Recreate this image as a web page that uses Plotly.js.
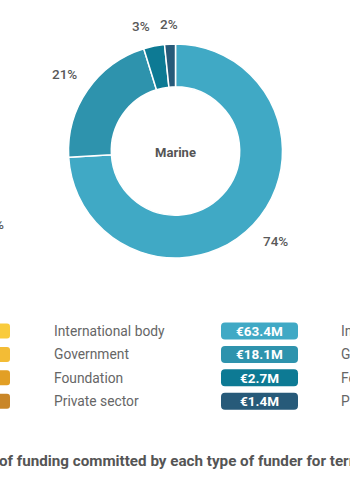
<!DOCTYPE html>
<html>
<head>
<meta charset="utf-8">
<script src="https://cdn.plot.ly/plotly-3.0.1.min.js"></script>
<style>
  html, body { margin: 0; padding: 0; background: #ffffff; }
  #chart { width: 350px; height: 500px; }
</style>
</head>
<body>
<div id="chart"></div>
<script>
// ---- data ----
const categories = ['International body', 'Government', 'Foundation', 'Private sector'];
const fundingMillions = [63.4, 18.1, 2.7, 1.4];
const centerLabel = 'Marine';
const captionText = 'of funding committed by each type of funder for terrestrial';
const leftPartialLabel = '%';

// ---- styles ----
const sliceColors = ['#40A9C5', '#2E93AD', '#0D7A94', '#275A79'];
const neighbourSwatchColors = ['#F9CB3C', '#F3BC35', '#E29F25', '#C98628'];
const FONT = 'Roboto, "Open Sans", sans-serif';
const W = 350, H = 500;

const px = x => x / W;
const py = y => 1 - y / H;

// donut geometry (pixels)
const cx = 175.5, cy = 151, R = 107;

const pie = {
  type: 'pie',
  labels: categories,
  values: fundingMillions,
  sort: false,
  direction: 'clockwise',
  rotation: 0,
  hole: 0.6,
  marker: { colors: sliceColors, line: { color: '#ffffff', width: 1.5 } },
  textinfo: 'none',
  title: { text: '<b>' + centerLabel + '</b>', position: 'middle center',
           font: { family: FONT, size: 13, color: '#555555' } },
  domain: { x: [px(cx - R), px(cx + R)], y: [py(cy + R), py(cy - R)] },
  showlegend: false,
  hoverinfo: 'label+value+percent'
};

const annotations = [];
const shapes = [];

// percentage labels outside each slice, derived from the values
const total = fundingMillions.reduce((a, b) => a + b, 0);
let cum = 0;
fundingMillions.forEach(v => {
  const frac = v / total;
  const mid = (cum + frac / 2) * 2 * Math.PI;   // clockwise from 12 o'clock
  cum += frac;
  const s = Math.sin(mid), c = Math.cos(mid);
  const d = R + 10;
  annotations.push({
    xref: 'paper', yref: 'paper', x: px(cx + d * s), y: py(cy - d * c),
    xanchor: s < -0.1 ? 'right' : (s > 0.1 ? 'left' : 'center'),
    yanchor: c > 0.1 ? 'bottom' : (c < -0.1 ? 'top' : 'middle'),
    text: Math.round(frac * 100) + '%', showarrow: false,
    font: { family: FONT, size: 13.5, color: '#595959', weight: 500 }
  });
});

const rowY0 = 331, rowStep = 23.4;
const pillX0 = 221, pillX1 = 298, pillH = 17, rad = 4;

function roundRect(x0, y0, x1, y1, r) {
  const X = v => px(v), Y = v => py(v);
  return `M ${X(x0 + r)} ${Y(y0)} L ${X(x1 - r)} ${Y(y0)} Q ${X(x1)} ${Y(y0)} ${X(x1)} ${Y(y0 + r)} ` +
         `L ${X(x1)} ${Y(y1 - r)} Q ${X(x1)} ${Y(y1)} ${X(x1 - r)} ${Y(y1)} ` +
         `L ${X(x0 + r)} ${Y(y1)} Q ${X(x0)} ${Y(y1)} ${X(x0)} ${Y(y1 - r)} ` +
         `L ${X(x0)} ${Y(y0 + r)} Q ${X(x0)} ${Y(y0)} ${X(x0 + r)} ${Y(y0)} Z`;
}

categories.forEach((cat, i) => {
  const y = rowY0 + i * rowStep;
  annotations.push({
    xref: 'paper', yref: 'paper', x: px(52), y: py(y), xanchor: 'left', yanchor: 'middle',
    text: cat, showarrow: false, font: { family: FONT, size: 13.8, color: '#666666' }
  });
  shapes.push({
    type: 'path', xref: 'paper', yref: 'paper',
    path: roundRect(pillX0, y - pillH / 2, pillX1, y + pillH / 2, rad),
    fillcolor: sliceColors[i], line: { width: 0 }
  });
  annotations.push({
    xref: 'paper', yref: 'paper', x: px((pillX0 + pillX1) / 2), y: py(y), xanchor: 'center', yanchor: 'middle',
    text: '<b>€' + fundingMillions[i].toFixed(1) + 'M</b>', showarrow: false,
    font: { family: FONT, size: 13.5, color: '#ffffff' }
  });
  // neighbouring chart's swatch (cut off at left edge)
  shapes.push({
    type: 'path', xref: 'paper', yref: 'paper',
    path: roundRect(-6, y - 7.5, 10, y + 7.5, 3),
    fillcolor: neighbourSwatchColors[i], line: { width: 0 }
  });
  // neighbouring chart's label (cut off at right edge)
  annotations.push({
    xref: 'paper', yref: 'paper', x: px(339), y: py(y), xanchor: 'left', yanchor: 'middle',
    text: cat, showarrow: false, font: { family: FONT, size: 13.8, color: '#666666' }
  });
});

// partial label of neighbouring donut
annotations.push({
  xref: 'paper', yref: 'paper', x: px(6), y: py(224), xanchor: 'right', yanchor: 'middle',
  text: leftPartialLabel, showarrow: false, font: { family: FONT, size: 13.5, color: '#595959', weight: 500 }
});

// caption (cut off on both sides)
annotations.push({
  xref: 'paper', yref: 'paper', x: px(-3), y: py(461), xanchor: 'left', yanchor: 'middle',
  text: '<b>' + captionText + '</b>', showarrow: false,
  font: { family: FONT, size: 15.2, color: '#555555' }
});

const layout = {
  width: W, height: H,
  margin: { l: 0, r: 0, t: 0, b: 0 },
  paper_bgcolor: '#ffffff',
  plot_bgcolor: '#ffffff',
  font: { family: FONT },
  annotations: annotations,
  shapes: shapes
};

Plotly.newPlot('chart', [pie], layout, { displayModeBar: false, staticPlot: true });
</script>
</body>
</html>
